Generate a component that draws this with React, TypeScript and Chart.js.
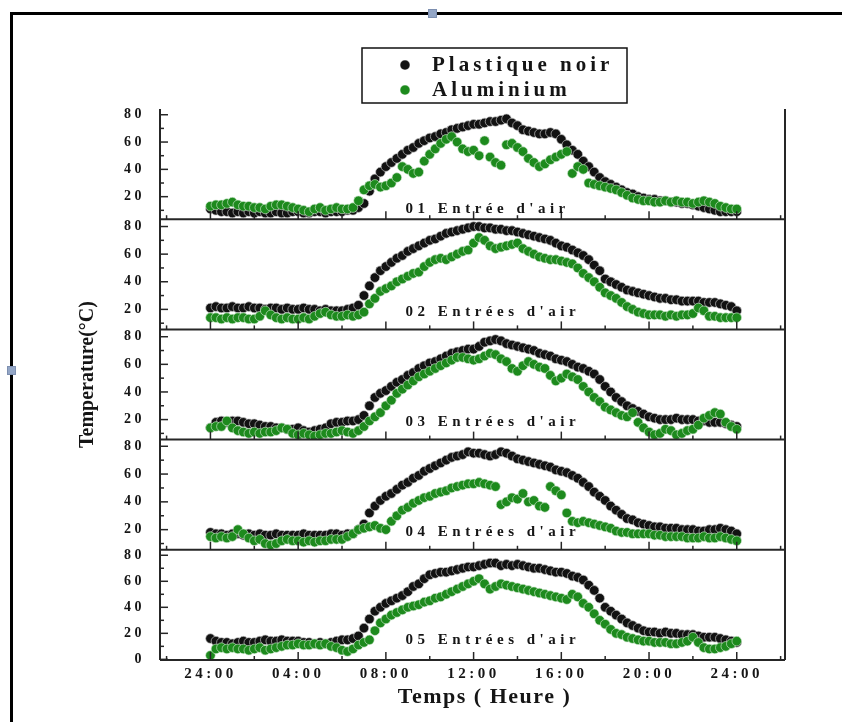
import React, { useEffect, useRef } from 'react';
import { Chart, registerables } from 'chart.js';

Chart.register(...registerables);

// ---------- data ----------
const STEP_H = 0.25; // one reading every 15 minutes, from 0 h to 24 h
const HOUR_LABELS = ['24:00', '04:00', '08:00', '12:00', '16:00', '20:00', '24:00'];
const HOUR_TICKS = [0, 4, 8, 12, 16, 20, 24];
const Y_TICKS = [0, 20, 40, 60, 80];
const SERIES_NAMES = ['Plastique noir', 'Aluminium'];
const PANEL_LABELS = ["01 Entrée d'air", "02 Entrées d'air", "03 Entrées d'air", "04 Entrées d'air", "05 Entrées d'air"];

const P1_NOIR = [
  11, 10, 9, 9, 8, 9, 8, 9,
  8, 9, 8, 8, 9, 8, 8, 9,
  9, 8, 8, 9, 9, 8, 9, 9,
  9, 10, 10, 12, 15, 24, 33, 38,
  42, 45, 48, 51, 54, 56, 59, 61,
  63, 64, 66, 67, 69, 70, 71, 72,
  73, 73, 74, 75, 75, 76, 77, 74,
  72, 69, 68, 67, 66, 66, 67, 66,
  62, 58, 54, 51, 46, 42, 38, 34,
  31, 29, 27, 25, 23, 22, 20, 19,
  18, 18, 17, 17, 16, 16, 15, 15,
  14, 13, 12, 11, 10, 9, 9, 9,
  9,
];
const P1_ALU = [
  13, 14, 14, 15, 16, 14, 13, 13,
  12, 12, 11, 13, 14, 14, 13, 12,
  11, 10, 9, 11, 12, 10, 11, 12,
  11, 11, 12, 17, 25, 28, 29, 27,
  28, 30, 34, 42, 40, 37, 38, 46,
  51, 55, 59, 62, 64, 60, 55, 53,
  54, 50, 61, 49, 45, 43, 58, 59,
  56, 53, 48, 45, 42, 44, 47, 49,
  51, 53, 37, 42, 40, 30, 29, 28,
  27, 26, 25, 23, 21, 19, 18, 17,
  17, 16, 16, 17, 16, 17, 16, 16,
  15, 16, 17, 16, 15, 13, 12, 11,
  11,
];
const P2_NOIR = [
  21, 22, 21, 21, 22, 21, 21, 22,
  21, 21, 20, 21, 21, 20, 21, 20,
  20, 21, 20, 20, 19, 20, 19, 19,
  19, 20, 21, 23, 30, 37, 43, 48,
  51, 54, 57, 59, 62, 64, 66, 68,
  70, 71, 73, 75, 76, 77, 78, 79,
  80, 80, 79, 79, 78, 78, 77, 77,
  76, 75, 74, 73, 72, 71, 70, 68,
  66, 65, 63, 61, 59, 56, 52, 48,
  42, 40, 38, 36, 34, 33, 32, 31,
  30, 29, 28, 28, 27, 27, 26, 26,
  26, 26, 25, 25, 25, 24, 23, 22,
  19,
];
const P2_ALU = [
  14, 14, 13, 14, 13, 14, 14, 13,
  13, 15, 19, 16, 14, 13, 14, 13,
  13, 14, 13, 15, 17, 18, 16, 15,
  15, 16, 15, 16, 18, 24, 28, 33,
  35, 37, 40, 42, 44, 46, 47, 51,
  54, 56, 57, 56, 58, 60, 62, 63,
  68, 72, 70, 66, 64, 65, 66, 67,
  68, 64, 62, 60, 58, 57, 56, 56,
  55, 54, 53, 50, 46, 43, 40, 36,
  32, 30, 28, 25, 22, 20, 18, 17,
  16, 16, 16, 15, 16, 15, 16, 16,
  17, 21, 19, 15, 15, 14, 14, 14,
  14,
];
const P3_NOIR = [
  14, 18, 19, 18, 19, 19, 18, 17,
  17, 16, 15, 15, 14, 14, 13, 13,
  14, 12, 11, 12, 13, 14, 17, 18,
  18, 19, 19, 20, 23, 30, 36, 39,
  41, 44, 47, 49, 52, 54, 57, 59,
  61, 62, 64, 66, 68, 69, 70, 71,
  71, 73, 76, 77, 78, 77, 75, 74,
  73, 72, 71, 70, 68, 67, 66, 64,
  63, 62, 60, 58, 57, 55, 53, 49,
  44, 40, 36, 33, 30, 28, 26, 24,
  22, 21, 20, 20, 20, 21, 20, 20,
  20, 19, 19, 18, 18, 18, 17, 16,
  15,
];
const P3_ALU = [
  14, 15, 15, 19, 14, 12, 11, 10,
  11, 10, 11, 11, 12, 14, 13, 10,
  9, 10, 9, 8, 9, 10, 10, 11,
  12, 11, 10, 12, 15, 19, 22, 25,
  30, 34, 39, 42, 45, 48, 51, 53,
  55, 57, 59, 61, 63, 65, 65, 64,
  63, 64, 66, 68, 67, 64, 62, 57,
  55, 59, 62, 60, 58, 57, 52, 48,
  50, 53, 51, 49, 44, 40, 36, 33,
  29, 27, 25, 23, 22, 25, 18, 14,
  11, 9, 10, 13, 12, 9, 10, 12,
  13, 16, 21, 23, 25, 24, 18, 15,
  13,
];
const P4_NOIR = [
  18, 17, 17, 16, 17, 17, 16, 17,
  16, 17, 16, 16, 17, 16, 16, 16,
  16, 17, 16, 16, 16, 16, 17, 17,
  16, 17, 17, 20, 24, 32, 37, 41,
  44, 46, 49, 52, 54, 57, 59, 62,
  64, 66, 68, 70, 72, 73, 74, 76,
  75, 75, 74, 73, 74, 76, 75, 73,
  71, 70, 69, 68, 67, 66, 65, 63,
  62, 61, 59, 57, 54, 51, 47, 44,
  41, 37, 34, 31, 28, 27, 25, 24,
  23, 22, 22, 21, 21, 21, 20, 20,
  20, 19, 19, 20, 20, 21, 20, 19,
  17,
];
const P4_ALU = [
  15, 14, 15, 14, 15, 20, 17, 14,
  12, 13, 10, 9, 10, 12, 13, 12,
  12, 11, 12, 11, 12, 12, 13, 13,
  13, 15, 17, 20, 21, 22, 23, 21,
  20, 26, 30, 34, 36, 39, 41, 43,
  44, 46, 47, 48, 50, 51, 52, 53,
  53, 54, 53, 52, 51, 38, 40, 43,
  42, 46, 40, 41, 37, 36, 51, 48,
  45, 32, 26, 25, 26, 25, 24, 23,
  22, 21, 19, 18, 18, 17, 17, 17,
  17, 16, 16, 15, 15, 15, 15, 14,
  14, 14, 15, 14, 14, 15, 14, 13,
  12,
];
const P5_NOIR = [
  16, 14, 13, 13, 12, 13, 14, 13,
  13, 14, 15, 14, 14, 15, 14, 14,
  14, 13, 13, 12, 13, 12, 13, 14,
  15, 15, 16, 18, 24, 31, 37, 40,
  43, 45, 47, 49, 52, 56, 58, 62,
  65, 66, 67, 67, 68, 69, 70, 71,
  71, 72, 73, 74, 74, 72, 73, 72,
  73, 72, 71, 70, 70, 69, 68, 67,
  67, 66, 64, 63, 61, 57, 53, 47,
  40, 37, 34, 31, 28, 26, 24, 22,
  21, 21, 20, 21, 20, 20, 19, 19,
  19, 18, 17, 17, 17, 16, 15, 14,
  13,
];
const P5_ALU = [
  3, 8, 9, 8, 9, 8, 8, 7,
  8, 9, 7, 8, 9, 10, 11, 11,
  12, 11, 11, 12, 11, 12, 10, 9,
  7, 6, 8, 11, 13, 15, 22, 28,
  31, 34, 36, 38, 40, 41, 42, 44,
  45, 47, 48, 50, 52, 54, 56, 58,
  60, 62, 58, 54, 56, 58, 57, 56,
  55, 54, 53, 52, 51, 50, 49, 48,
  47, 46, 50, 48, 43, 40, 35, 30,
  27, 23, 20, 19, 17, 16, 15, 14,
  14, 13, 13, 13, 12, 12, 13, 14,
  17, 13, 9, 8, 8, 9, 10, 12,
  14,
];

const PANEL_NOIR = [P1_NOIR, P2_NOIR, P3_NOIR, P4_NOIR, P5_NOIR];
const PANEL_ALU = [P1_ALU, P2_ALU, P3_ALU, P4_ALU, P5_ALU];
const PANEL_Y_MIN = [3.5, 5.5, 5.5, 5.5, -0.5];
const PANEL_Y_MAX = [84.2, 85.3, 85.3, 84.8, 84.2];
const LABEL_HOUR = 8.9;
const LABEL_VALUE = [11, 18, 18, 18, 15];

// ---------- style ----------
const FONT = "'Liberation Serif', 'Times New Roman', serif";
const INK = '#151515';
const AXIS = '#262626';
const NOIR = '#121212';
const ALU = '#1d8a1d';
const PANEL_IDS = ['y1', 'y2', 'y3', 'y4', 'y5'];

const toPoints = (vals: number[]) => vals.map((v, i) => ({ x: i * STEP_H, y: v }));

const decorPlugin = {
  id: 'decor',
  beforeDraw(chart: any) {
    chart.ctx.letterSpacing = '3.5px';
  },
  beforeDatasetsDraw(chart: any) {
    chart.ctx.letterSpacing = '0px';
  },
  afterDatasetsDraw(chart: any) {
    const { ctx, chartArea: a, scales } = chart;
    const xs = scales.x;
    const seg = (x1: number, y1: number, x2: number, y2: number) => {
      ctx.beginPath();
      ctx.moveTo(x1, y1);
      ctx.lineTo(x2, y2);
      ctx.stroke();
    };
    ctx.save();
    ctx.strokeStyle = AXIS;
    ctx.lineWidth = 2;
    seg(a.left, a.top, a.left, a.bottom);
    seg(a.right, a.top, a.right, a.bottom);
    PANEL_IDS.forEach((id) => {
      const ys = scales[id];
      ctx.lineWidth = 2;
      seg(a.left, ys.bottom, a.right, ys.bottom);
      ctx.lineWidth = 1.5;
      for (let h = Math.ceil(xs.min / 2) * 2; h <= xs.max; h += 2) {
        const px = xs.getPixelForValue(h);
        const len = h % 4 === 0 ? 8 : 4;
        seg(px, ys.bottom, px, ys.bottom - len);
      }
      for (let v = Math.ceil(ys.min / 10) * 10; v <= ys.max; v += 10) {
        const py = ys.getPixelForValue(v);
        const len = v % 20 === 0 ? 8 : 4;
        seg(a.left, py, a.left + len, py);
      }
    });
    ctx.restore();
  },
  afterDraw(chart: any) {
    const { ctx, scales, chartArea: a } = chart;
    const xs = scales.x;
    ctx.save();
    ctx.fillStyle = INK;
    // panel captions
    ctx.font = `bold 15px ${FONT}`;
    ctx.letterSpacing = '4.5px';
    ctx.textAlign = 'left';
    ctx.textBaseline = 'middle';
    PANEL_IDS.forEach((id, i) => {
      const ys = scales[id];
      ctx.fillText(PANEL_LABELS[i], xs.getPixelForValue(LABEL_HOUR), ys.getPixelForValue(LABEL_VALUE[i]));
    });
    // x title
    ctx.font = `bold 22px ${FONT}`;
    ctx.letterSpacing = '1.5px';
    ctx.textAlign = 'center';
    ctx.fillText('Temps ( Heure )', (a.left + a.right) / 2 + 12, a.bottom + 37);
    // y title
    ctx.save();
    ctx.letterSpacing = '0px';
    ctx.font = `bold 20px ${FONT}`;
    ctx.translate(a.left - 72, (a.top + a.bottom) / 2 - 10);
    ctx.rotate(-Math.PI / 2);
    ctx.fillText('Temperature(°C)', 0, 0);
    ctx.restore();
    // legend
    const lx = 362, ly = 48, lw = 265, lh = 55;
    ctx.strokeStyle = '#111';
    ctx.lineWidth = 1.5;
    ctx.strokeRect(lx, ly, lw, lh);
    const colors = [NOIR, ALU];
    ctx.font = `bold 21px ${FONT}`;
    ctx.letterSpacing = '4px';
    ctx.textAlign = 'left';
    SERIES_NAMES.forEach((name, i) => {
      const cy = ly + 17 + i * 25;
      ctx.beginPath();
      ctx.fillStyle = colors[i];
      ctx.arc(lx + 43, cy, 5, 0, Math.PI * 2);
      ctx.fill();
      ctx.strokeStyle = 'rgba(255,255,255,0.6)';
      ctx.lineWidth = 0.8;
      ctx.stroke();
      ctx.fillStyle = INK;
      ctx.fillText(name, lx + 70, cy + 1);
    });
    ctx.restore();
    ctx.letterSpacing = '0px';
  },
};

export default function App() {
  const ref = useRef<HTMLCanvasElement | null>(null);

  useEffect(() => {
    if (!ref.current) return;
    const datasets: any[] = [];
    PANEL_IDS.forEach((id, i) => {
      datasets.push({
        label: SERIES_NAMES[0],
        data: toPoints(PANEL_NOIR[i]),
        yAxisID: id,
        xAxisID: 'x',
        backgroundColor: NOIR,
        borderColor: 'rgba(200,200,200,0.75)',
        borderWidth: 0.9,
        pointRadius: 4.8,
        order: 1,
      });
      datasets.push({
        label: SERIES_NAMES[1],
        data: toPoints(PANEL_ALU[i]),
        yAxisID: id,
        xAxisID: 'x',
        backgroundColor: ALU,
        borderColor: 'rgba(210,235,210,0.7)',
        borderWidth: 0.9,
        pointRadius: 4.8,
        order: 0,
      });
    });

    const yScale = (i: number) => ({
      type: 'linear',
      position: 'left',
      stack: 'panels',
      stackWeight: 1,
      weight: 5 - i,
      min: PANEL_Y_MIN[i],
      max: PANEL_Y_MAX[i],
      grid: { display: false, drawTicks: false },
      border: { display: false },
      afterBuildTicks: (s: any) => {
        s.ticks = Y_TICKS.filter((v) => v >= s.min && v <= s.max).map((v) => ({ value: v }));
      },
      ticks: {
        autoSkip: false,
        padding: 15,
        color: INK,
        font: { family: FONT, size: 14, weight: 'bold' },
        callback: (v: any) => String(v),
      },
      afterFit: (s: any) => {
        s.width = 60;
      },
    });

    const chart = new Chart(ref.current, {
      type: 'scatter',
      data: { datasets },
      plugins: [decorPlugin],
      options: {
        animation: false,
        responsive: false,
        devicePixelRatio: 1,
        layout: { padding: { left: 100, right: 57, top: 109, bottom: 32 } },
        plugins: { legend: { display: false }, tooltip: { enabled: false } },
        scales: {
          x: {
            type: 'linear',
            position: 'bottom',
            min: -2.3,
            max: 26.2,
            grid: { display: false, drawTicks: false },
            border: { display: false },
            afterBuildTicks: (s: any) => {
              s.ticks = HOUR_TICKS.map((v) => ({ value: v }));
            },
            ticks: {
              autoSkip: false,
              maxRotation: 0,
              padding: 5,
              color: INK,
              font: { family: FONT, size: 15, weight: 'bold' },
              callback: (v: any) => HOUR_LABELS[HOUR_TICKS.indexOf(Number(v))] ?? '',
            },
            afterFit: (s: any) => {
              s.height = 30;
            },
          },
          y5: yScale(4),
          y4: yScale(3),
          y3: yScale(2),
          y2: yScale(1),
          y1: yScale(0),
        } as any,
      } as any,
    });
    return () => chart.destroy();
  }, []);

  return (
    <div style={{ position: 'fixed', left: 0, top: 0, width: 842, height: 722, background: '#fff', overflow: 'hidden' }}>
      <canvas ref={ref} width={842} height={722} style={{ position: 'absolute', left: 0, top: 0, width: 842, height: 722 }} />
      <div style={{ position: 'absolute', left: 11, top: 12, width: 831, height: 3, background: '#000' }} />
      <div style={{ position: 'absolute', left: 10, top: 12, width: 3, height: 710, background: '#000' }} />
      <div style={{ position: 'absolute', left: 428, top: 9, width: 9, height: 9, background: '#93a6c6', border: '1px solid #7d8fb0', boxSizing: 'border-box' }} />
      <div style={{ position: 'absolute', left: 7, top: 366, width: 9, height: 9, background: '#93a6c6', border: '1px solid #7d8fb0', boxSizing: 'border-box' }} />
    </div>
  );
}
